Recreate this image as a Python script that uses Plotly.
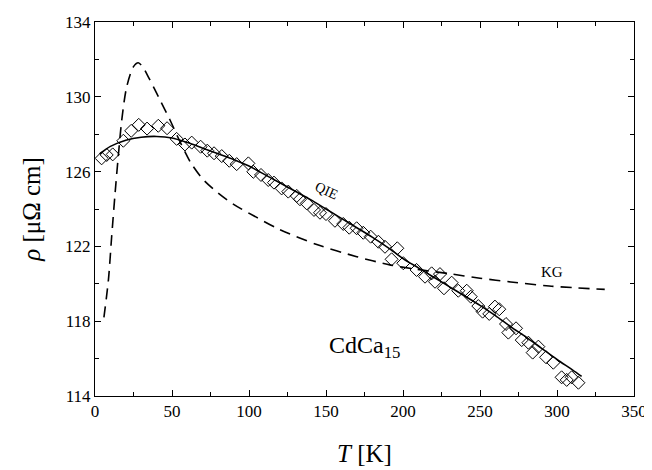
import plotly.graph_objects as go

# Experimental data (diamonds)
T_data = [4.3, 7.6, 11.5, 18.4, 23.5, 28.4, 33.8, 41.1, 46.8, 53.0, 58.4, 62.8, 68.6, 72.9,
          77.3, 82.3, 87.2, 92.0, 99.6, 102.8, 107.8, 112.5, 116.2, 121.2, 125.5, 131.0,
          133.1, 137.5, 142.2, 146.1, 150.0, 155.8, 161.2, 165.1, 169.9, 174.2, 179.0,
          184.0, 188.3, 192.6, 196.3, 200.2, 208.8, 214.3, 218.6, 220.8, 224.0, 226.6,
          231.6, 235.9, 241.4, 244.0, 248.9, 251.7, 256.0, 259.7, 262.5, 266.9, 268.4,
          273.4, 277.1, 281.4, 284.2, 287.9, 292.9, 297.6, 303.0, 306.3, 309.5, 313.9]
rho_data = [126.71, 126.89, 126.92, 127.65, 128.18, 128.50, 128.30, 128.45, 128.32, 127.75,
            127.45, 127.55, 127.33, 127.12, 126.98, 126.83, 126.58, 126.40, 126.44, 125.99,
            125.82, 125.55, 125.41, 125.10, 124.93, 124.70, 124.52, 124.30, 123.95, 123.80,
            123.73, 123.37, 123.20, 123.00, 122.97, 122.73, 122.52, 122.25, 121.98, 121.31,
            121.90, 121.10, 120.74, 120.38, 120.56, 120.11, 120.52, 119.76, 120.06, 119.63,
            119.63, 119.31, 118.81, 118.51, 118.39, 118.78, 118.64, 117.85, 117.39, 117.62,
            116.99, 116.85, 116.32, 116.64, 116.07, 115.78, 115.00, 114.86, 115.00, 114.71]

# QIE fit (solid line)
T_qie = [3, 10, 20, 30, 40, 50, 60, 70, 80, 90, 100, 110, 120, 130, 140, 150, 160, 170,
         180, 190, 200, 210, 220, 230, 240, 250, 260, 270, 280, 290, 300, 310, 316]
rho_qie = [126.95, 127.35, 127.68, 127.84, 127.88, 127.80, 127.55, 127.25, 126.95, 126.65,
           126.30, 125.85, 125.40, 124.95, 124.50, 124.00, 123.50, 123.00, 122.50, 121.95,
           121.35, 120.85, 120.35, 119.85, 119.35, 118.85, 118.30, 117.70, 117.15, 116.55,
           115.95, 115.40, 115.05]

# KG fit (dashed line)
T_kg = [5.8, 8.7, 10.8, 13, 15.1, 17.3, 20.5, 24.9, 28.1, 31, 34.6, 42.2, 48.7, 55.2, 62,
        70, 80, 90, 105, 120, 144, 170, 192, 207, 230, 250, 270, 295, 331]
rho_kg = [118.2, 120.2, 122.5, 124.8, 126.8, 128.7, 130.5, 131.6, 131.82, 131.6, 131.07,
          129.83, 128.76, 127.6, 126.5, 125.6, 124.85, 124.25, 123.55, 122.9, 122.1, 121.45,
          121.0, 120.8, 120.54, 120.3, 120.1, 119.88, 119.7]

x_ticks = [0, 50, 100, 150, 200, 250, 300, 350]
y_ticks = [114, 118, 122, 126, 130, 134]

serif = "Liberation Serif, Times New Roman, serif"

fig = go.Figure()
fig.add_trace(go.Scatter(x=T_kg, y=rho_kg, mode="lines",
                         line=dict(color="black", width=1.6, dash="11px,7px",
                                   shape="spline", smoothing=0.8),
                         showlegend=False))
fig.add_trace(go.Scatter(x=T_qie, y=rho_qie, mode="lines",
                         line=dict(color="black", width=1.6, shape="spline", smoothing=0.8),
                         showlegend=False))
fig.add_trace(go.Scatter(x=T_data, y=rho_data, mode="markers",
                         marker=dict(symbol="diamond-open", size=10,
                                     color="black", line=dict(width=1)),
                         showlegend=False))

axis_common = dict(
    showline=True, linecolor="black", linewidth=1, mirror="allticks",
    ticks="inside", ticklen=6, tickcolor="black", tickwidth=1,
    showgrid=False, zeroline=False,
    tickfont=dict(family=serif, size=17, color="black"),
)

fig.update_xaxes(range=[0, 350], tickvals=x_ticks, ticktext=[str(v) for v in x_ticks],
                 minor=dict(dtick=25, tick0=0, ticks="inside", ticklen=4, tickcolor="black"),
                 title=dict(text="<i>T</i> [K]", font=dict(family=serif, size=25, color="black"),
                            standoff=24),
                 **axis_common)
fig.update_yaxes(range=[114, 134], tickvals=y_ticks, ticktext=[str(v) for v in y_ticks],
                 minor=dict(dtick=2, tick0=114, ticks="inside", ticklen=4, tickcolor="black"),
                 title=dict(text="<i>ρ</i> [μΩ cm]", font=dict(family=serif, size=25, color="black"),
                            standoff=17),
                 **axis_common)

fig.add_annotation(x=150, y=125.0, text="QIE", showarrow=False, textangle=24,
                   font=dict(family=serif, size=14, color="black"))
fig.add_annotation(x=297, y=120.65, text="KG", showarrow=False,
                   font=dict(family=serif, size=15, color="black"))
fig.add_annotation(x=175, y=116.6, text="CdCa<sub>15</sub>", showarrow=False,
                   font=dict(family=serif, size=24, color="black"))

fig.update_layout(
    width=644, height=462,
    margin=dict(l=87, r=18, t=14, b=74, autoexpand=False),
    plot_bgcolor="white", paper_bgcolor="white",
    font=dict(family=serif, color="black"),
)

fig.write_html("out.html")
